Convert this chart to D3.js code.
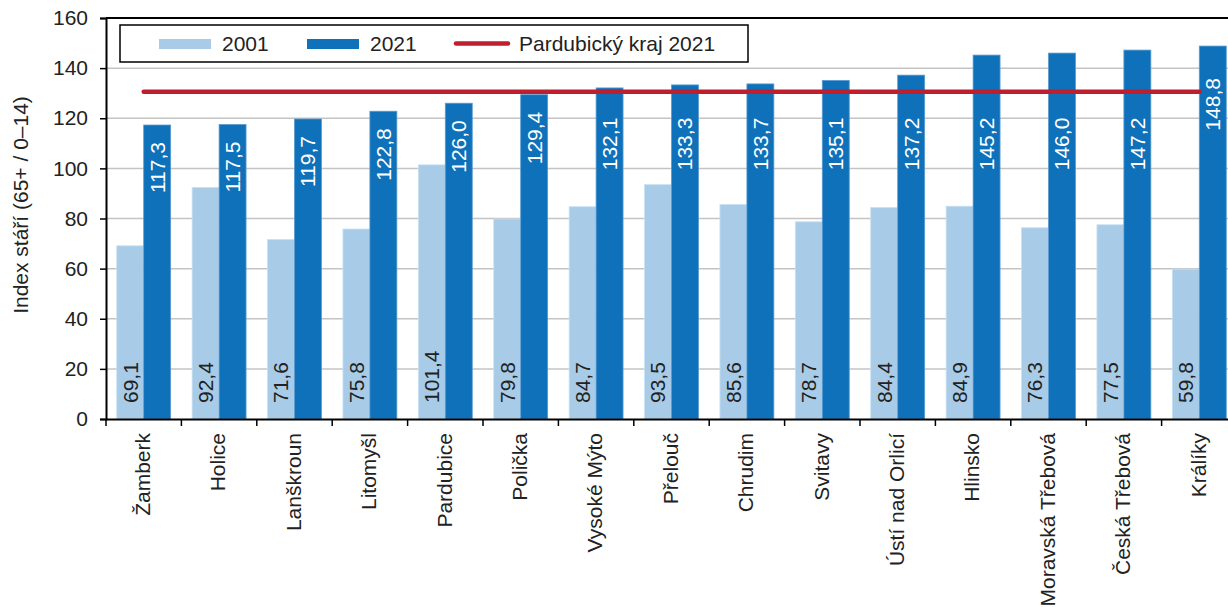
<!DOCTYPE html>
<html>
<head>
<meta charset="utf-8">
<script src="https://cdn.jsdelivr.net/npm/d3@7"></script>
<style>
body{margin:0;background:#fff;}
svg{display:block;font-family:"Liberation Sans",Arial,sans-serif;}
</style>
</head>
<body>
<svg id="chart" width="1228" height="607"></svg>
<script>
const categories = ["Žamberk","Holice","Lanškroun","Litomyšl","Pardubice","Polička","Vysoké Mýto","Přelouč","Chrudim","Svitavy","Ústí nad Orlicí","Hlinsko","Moravská Třebová","Česká Třebová","Králíky"];
const values2001 = [69.1,92.4,71.6,75.8,101.4,79.8,84.7,93.5,85.6,78.7,84.4,84.9,76.3,77.5,59.8];
const values2021 = [117.3,117.5,119.7,122.8,126.0,129.4,132.1,133.3,133.7,135.1,137.2,145.2,146.0,147.2,148.8];
const krajValue = 130.6;
const yTicks = [0,20,40,60,80,100,120,140,160];
const seriesNames = ["2001","2021"];
const lineName = "Pardubický kraj 2021";

(function(){
const C1 = "#A8CCE7", C2 = "#0E71B9", RED = "#BE1E2D";
const FS = 21;
const svg = d3.select("#chart");
const pL = 106, pR = 1237, pT = 18, pB = 419;

const x = d3.scaleBand().domain(categories).range([pL, pR]).paddingInner(0.285).paddingOuter(0.1425);
const xs = d3.scaleBand().domain(seriesNames).range([0, x.bandwidth()]);
const y = d3.scaleLinear().domain([0,160]).range([pB, pT]);
const fmt = v => d3.format(".1f")(v).replace(".", ",");

// gridlines
svg.append("g").selectAll("line").data(yTicks.filter(t => t > 0 && t < 160)).join("line")
  .attr("x1", pL).attr("x2", 1228).attr("y1", d => y(d)).attr("y2", d => y(d))
  .attr("stroke", "#C4C4C4").attr("stroke-width", 1.5);

// bars
const g = svg.append("g");
categories.forEach((c, i) => {
  [values2001[i], values2021[i]].forEach((v, k) => {
    g.append("rect")
      .attr("x", x(c) + xs(seriesNames[k]))
      .attr("y", y(v))
      .attr("width", xs.bandwidth())
      .attr("height", y(0) - y(v))
      .attr("fill", k === 0 ? C1 : C2)
      .attr("stroke", k === 0 ? "#C8E0F2" : "#5A9BD0").attr("stroke-width", 0.8);
  });
});

// kraj line: from center of first band to center of last band
const lineX1 = x(categories[0]) + x.bandwidth()/2;
const lineX2 = x(categories[categories.length-1]) + x.bandwidth()/2;
svg.append("line").attr("x1", lineX1).attr("x2", lineX2)
  .attr("y1", y(krajValue)).attr("y2", y(krajValue))
  .attr("stroke", RED).attr("stroke-width", 4.5).attr("stroke-linecap", "round");

// labels
const lbl = svg.append("g").attr("font-size", FS);
categories.forEach((c, i) => {
  const cx1 = x(c) + xs("2001") + xs.bandwidth()/2;
  lbl.append("text").attr("transform", `translate(${cx1},${pB-16}) rotate(-90)`)
    .attr("dy", "0.35em").attr("fill", "#222").text(fmt(values2001[i]));
  const cx2 = x(c) + xs("2021") + xs.bandwidth()/2;
  const barTop = y(values2021[i]);
  let t = barTop + 17;
  const crossed = values2021[i] > krajValue && x(c) + xs("2021") < lineX2 - 1;
  if (crossed) t = Math.max(t, y(krajValue) + 26);
  else if (values2021[i] > krajValue) t = barTop + 32;
  lbl.append("text").attr("transform", `translate(${cx2},${t}) rotate(-90)`)
    .attr("dy", "0.35em").attr("text-anchor", "end").attr("fill", "#fff").text(fmt(values2021[i]));
});

// axes
const yAxis = svg.append("g").attr("transform", `translate(${pL},0)`)
  .call(d3.axisLeft(y).tickValues(yTicks).tickSize(6).tickPadding(12));
yAxis.select(".domain").attr("stroke", "#000").attr("stroke-width", 2);
yAxis.selectAll(".tick line").attr("stroke", "#000").attr("stroke-width", 1.5);
yAxis.selectAll(".tick text").attr("font-size", FS).attr("fill", "#222").attr("font-family", "Liberation Sans, Arial, sans-serif");

const xAxis = svg.append("g").attr("transform", `translate(0,${pB})`)
  .call(d3.axisBottom(x).tickSize(0).tickFormat(""));
xAxis.select(".domain").attr("stroke", "#000").attr("stroke-width", 2);
svg.append("g").selectAll("line").data(categories).join("line")
  .attr("x1", d => x(d) - x.step()*x.paddingInner()/2).attr("x2", d => x(d) - x.step()*x.paddingInner()/2)
  .attr("y1", pB).attr("y2", pB + 7).attr("stroke", "#000").attr("stroke-width", 1.5);
svg.append("g").selectAll("text").data(categories).join("text")
  .attr("transform", d => `translate(${x(d) + x.bandwidth()/2 - 1},${pB + 14}) rotate(-90)`)
  .attr("dy", "0.35em").attr("text-anchor", "end").attr("font-size", FS).attr("fill", "#222").text(d => d);

// top frame
svg.append("line").attr("x1", pL).attr("x2", 1228).attr("y1", pT).attr("y2", pT)
  .attr("stroke", "#000").attr("stroke-width", 2);

// y title
svg.append("text").attr("transform", `translate(21,205) rotate(-90)`)
  .attr("text-anchor", "middle").attr("dy", "0.35em").attr("font-size", 21).attr("fill", "#222")
  .text("Index stáří (65+ / 0–14)");

// legend
const lg = svg.append("g");
lg.append("rect").attr("x", 120).attr("y", 25).attr("width", 628).attr("height", 37)
  .attr("fill", "#fff").attr("stroke", "#000").attr("stroke-width", 1.5);
lg.append("rect").attr("x", 159).attr("y", 39).attr("width", 52).attr("height", 10).attr("fill", C1);
lg.append("text").attr("x", 222).attr("y", 44).attr("dy", "0.35em").attr("font-size", FS).attr("fill", "#222").text(seriesNames[0]);
lg.append("rect").attr("x", 307).attr("y", 39).attr("width", 52).attr("height", 10).attr("fill", C2);
lg.append("text").attr("x", 370).attr("y", 44).attr("dy", "0.35em").attr("font-size", FS).attr("fill", "#222").text(seriesNames[1]);
lg.append("line").attr("x1", 456).attr("x2", 508).attr("y1", 43.5).attr("y2", 43.5)
  .attr("stroke", RED).attr("stroke-width", 4.5).attr("stroke-linecap", "round");
lg.append("text").attr("x", 519).attr("y", 44).attr("dy", "0.35em").attr("font-size", FS).attr("fill", "#222").text(lineName);
})();
</script>
</body>
</html>
